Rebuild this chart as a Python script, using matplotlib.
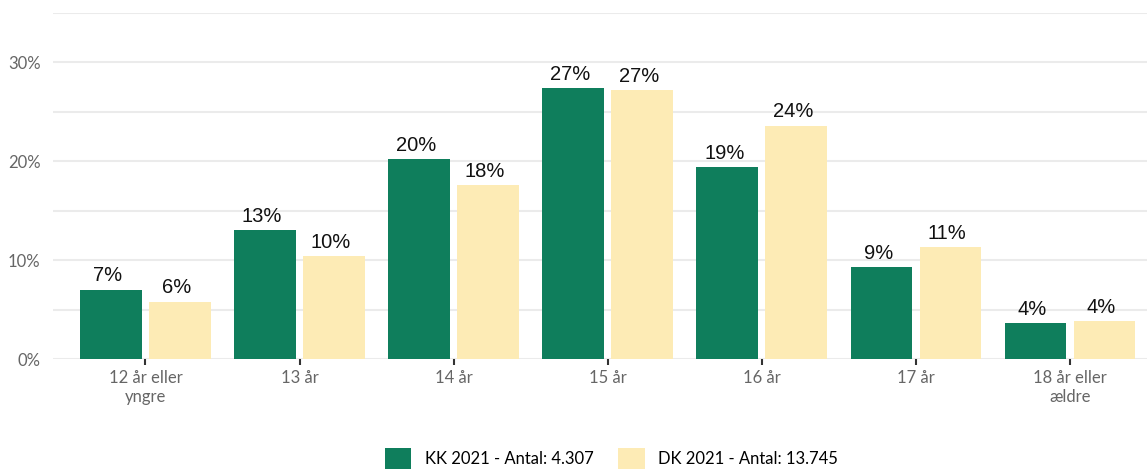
import matplotlib.pyplot as plt
import numpy as np

categories = ["12 år eller\nyngre", "13 år", "14 år", "15 år", "16 år", "17 år", "18 år eller\nældre"]
kk_2021 = [7.0, 13.0, 20.2, 27.4, 19.4, 9.3, 3.6]
dk_2021 = [5.8, 10.4, 17.6, 27.2, 23.6, 11.3, 3.8]
series_names = ["KK 2021 - Antal: 4.307", "DK 2021 - Antal: 13.745"]
y_ticks = [0, 10, 20, 30]

green = "#0f7e5c"
cream = "#fdebb5"

fig = plt.figure(figsize=(11.47, 4.70), dpi=100)
ax = fig.add_axes([53 / 1147, 111 / 470, 1 - 53 / 1147, 346 / 470])

x = np.arange(len(categories))
width = 0.40
offset = 0.224
b1 = ax.bar(x - offset, kk_2021, width, color=green, label=series_names[0], zorder=3)
b2 = ax.bar(x + offset, dk_2021, width, color=cream, label=series_names[1], zorder=3)

for bars, vals in ((b1, kk_2021), (b2, dk_2021)):
    for rect, v in zip(bars, vals):
        ax.text(rect.get_x() + rect.get_width() / 2 - 0.02, v + 0.45, f"{v:.0f}%",
                ha="center", va="bottom", fontsize=14.5, color="#111111",
                family="Liberation Sans", zorder=4)

ax.set_xlim(-0.6, 6.5)
ax.set_ylim(0, 35)
ax.set_yticks(y_ticks)
ax.set_yticklabels([f"{t}%" for t in y_ticks])
ax.set_yticks([5, 15, 25, 35], minor=True)
ax.grid(axis="y", which="both", color="#ebebeb", linewidth=1.5, zorder=0)
ax.tick_params(axis="y", which="both", length=0, pad=9, labelsize=12, labelcolor="#666666")
ax.set_xticks(x)
ax.set_xticklabels(categories)
ax.tick_params(axis="x", length=4, width=1.5, color="#333333", pad=4,
               labelsize=12, labelcolor="#666666")
for lbl in ax.get_xticklabels() + ax.get_yticklabels():
    lbl.set_family("Lato")
for s in ax.spines.values():
    s.set_visible(False)

fig.legend(loc="lower center", bbox_to_anchor=(0.533, -0.03), ncol=2, frameon=False,
           prop={"family": "Lato", "size": 12}, handlelength=1.6, handleheight=1.6,
           columnspacing=1.5, handletextpad=0.8)

fig.savefig("out.png", dpi=100)
